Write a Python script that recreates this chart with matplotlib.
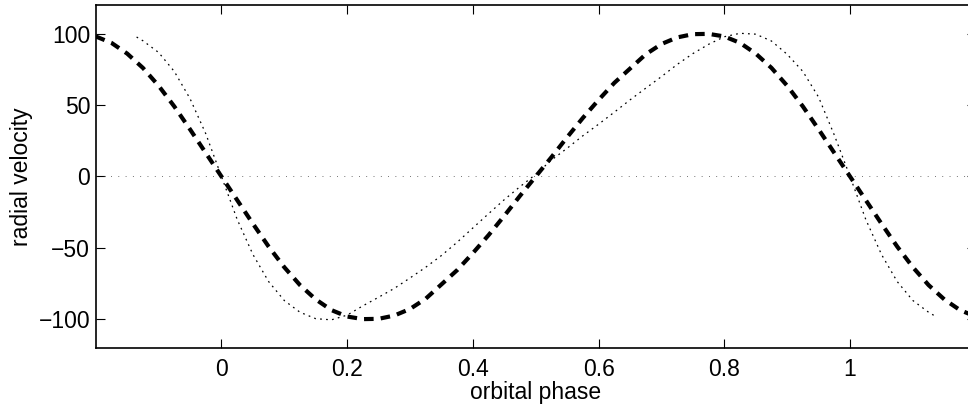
import matplotlib
matplotlib.use("Agg")
import matplotlib.pyplot as plt

plt.rcParams['font.family'] = ['Liberation Sans', 'DejaVu Sans']

# fase orbital y velocidades
fase_a = [-0.2, -0.175, -0.15, -0.125, -0.1, -0.075, -0.05, -0.025,
          0.0, 0.025, 0.05, 0.075, 0.1, 0.125, 0.15, 0.175, 0.2, 0.225,
          0.25, 0.275, 0.3, 0.325, 0.35, 0.375, 0.4, 0.425, 0.45, 0.475,
          0.5, 0.525, 0.55, 0.575, 0.6, 0.625, 0.65, 0.675, 0.7, 0.725,
          0.75, 0.775, 0.8, 0.825, 0.85, 0.875, 0.9, 0.925, 0.95, 0.975,
          1.0, 1.025, 1.05, 1.075, 1.1, 1.125, 1.15, 1.175, 1.2]
vel_a = [98, 93.5, 86, 76, 63.5, 49, 33, 16.5,
         0, -16.5, -33, -49, -63.5, -76, -86, -93.5, -98, -99.8,
         -99.6, -97.3, -92.7, -85.5, -75.5, -65.5, -53.6, -41, -27.5, -13.5,
         0, 13.5, 27.5, 41, 53.6, 65.5, 75.5, 85.5, 92.7, 97.3,
         99.6, 99.8, 98, 93.5, 86, 76, 63.5, 49, 33, 16.5,
         0, -16.5, -33, -49, -63.5, -76, -86, -93.5, -98]

fase_b = [-0.135, -0.125, -0.1, -0.075, -0.05, -0.025,
          0.0, 0.025, 0.05, 0.075, 0.1, 0.125, 0.15, 0.175, 0.2, 0.225,
          0.25, 0.275, 0.3, 0.325, 0.35, 0.375, 0.4, 0.425, 0.45, 0.475,
          0.5, 0.525, 0.55, 0.575, 0.6, 0.625, 0.65, 0.675, 0.7, 0.725,
          0.75, 0.775, 0.8, 0.825, 0.85, 0.875, 0.9, 0.925, 0.95, 0.975,
          1.0, 1.025, 1.05, 1.075, 1.1, 1.125, 1.135]
vel_b = [97.6, 95, 86.8, 73.5, 54.5, 30,
         0, -30, -54.5, -73.5, -86.8, -95, -99.5, -100.3, -97, -90.5,
         -84.5, -78.3, -71, -63.5, -55.3, -46, -36, -26, -16.2, -7.1,
         1.5, 11.5, 19.8, 28.5, 36.6, 45, 53.6, 61.8, 69.9, 78.4,
         86, 92.5, 97.8, 100.2, 99.6, 94.8, 85.5, 73.5, 55.5, 29,
         0, -30, -54.5, -73.5, -86.8, -95, -97.6]

xticks = [0, 0.2, 0.4, 0.6, 0.8, 1]
xticklabels = ["0", "0.2", "0.4", "0.6", "0.8", "1"]
yticks = [-100, -50, 0, 50, 100]

fig = plt.figure(figsize=(9.68, 4.07), dpi=100)
ax = fig.add_axes([0.0989, 0.145, 0.9091, 0.8427])

ax.axhline(0, color='#444444', lw=0.6, dashes=(1, 7.75))
ax.plot(fase_b, vel_b, color='k', lw=0.9, dashes=(1.4, 3.4))
ax.plot(fase_a, vel_a, color='k', lw=3, dashes=(2.3, 1.7))

ax.set_xlim(-0.2, 1.2)
ax.set_ylim(-120, 120)
ax.set_xticks(xticks)
ax.set_xticklabels(xticklabels)
ax.set_yticks(yticks)
ax.tick_params(direction='in', length=6.5, width=0.8, top=True, right=True,
               labelsize=16.5)
ax.tick_params(axis='x', pad=7)
ax.tick_params(axis='y', pad=4)
for s in ax.spines.values():
    s.set_linewidth(1.2)

ax.set_xlabel("orbital phase", fontsize=16.5, labelpad=0)
ax.set_ylabel("radial velocity", fontsize=16.5, labelpad=4)

fig.savefig("out.png", dpi=100)
